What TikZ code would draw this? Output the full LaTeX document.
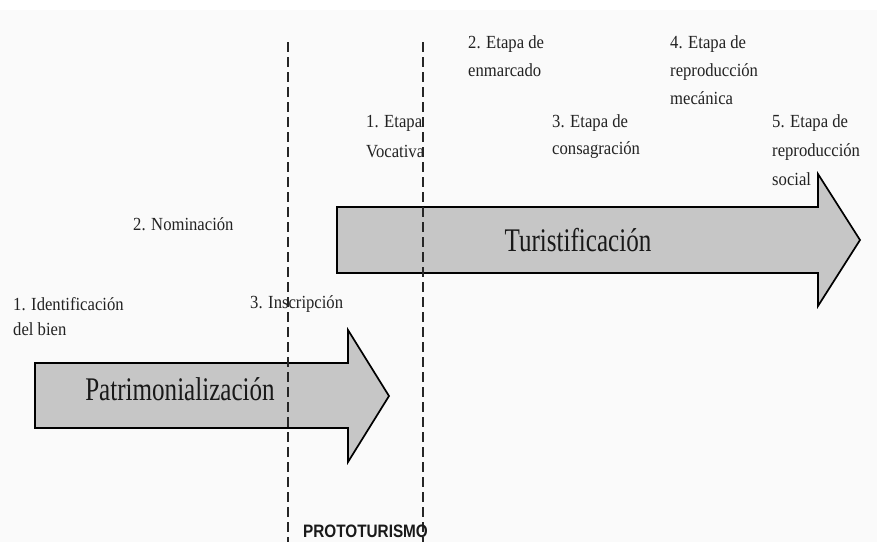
\documentclass[tikz,border=0pt]{standalone}
\usepackage{fontspec}
\setmainfont{Liberation Serif}[FakeStretch=0.9]
\newfontfamily\bigserif{Liberation Serif}[FakeStretch=0.76]
\newfontfamily\protofont{Liberation Sans}[FakeStretch=0.85]
\definecolor{bgcol}{HTML}{FAFAFA}
\definecolor{arrfill}{HTML}{C6C6C6}
\definecolor{txtcol}{HTML}{222222}
\begin{document}
\begin{tikzpicture}[x=1pt,y=-1pt,
  lbl/.style={anchor=north west,inner sep=0pt,align=left,text=txtcol,font=\fontsize{18.5}{28}\selectfont},
  bigarrow/.style={draw=black,line width=1.7pt,fill=arrfill,line join=miter},
  biglbl/.style={anchor=base,inner sep=0pt,text=black!90,font=\bigserif\fontsize{33}{36}\selectfont},
  divider/.style={draw=black!85,line width=2pt,dash pattern=on 10pt off 5pt}]
\useasboundingbox (0,0) rectangle (877,542);
\fill[white] (0,0) rectangle (877,10);
\fill[bgcol] (0,10) rectangle (877,542);

% Patrimonializacion arrow
\coordinate (p1) at (35,363);
\coordinate (p2) at (348,363);
\coordinate (p3) at (348,330);
\coordinate (p4) at (389,396);
\coordinate (p5) at (348,462);
\coordinate (p6) at (348,428);
\coordinate (p7) at (35,428);
\path[bigarrow] (p1) -- (p2) -- (p3) -- (p4) -- (p5) -- (p6) -- (p7) -- cycle;
\node[biglbl] (patr) at (180,400) {Patrimonialización};

% Turistificacion arrow
\coordinate (t1) at (337,207);
\coordinate (t2) at (818,207);
\coordinate (t3) at (818,174);
\coordinate (t4) at (860,240);
\coordinate (t5) at (818,306);
\coordinate (t6) at (818,273);
\coordinate (t7) at (337,273);
\path[bigarrow] (t1) -- (t2) -- (t3) -- (t4) -- (t5) -- (t6) -- (t7) -- cycle;
\node[biglbl] (turi) at (578,251) {Turistificación};

% dashed dividers
\coordinate (d1top) at (288,42);
\coordinate (d1bot) at (288,542);
\coordinate (d2top) at (423,42);
\coordinate (d2bot) at (423,542);
\draw[divider] (d1top) -- (d1bot);
\draw[divider] (d2top) -- (d2bot);

% labels
\node[lbl,font=\fontsize{18.5}{25}\selectfont] (idb) at (13,297) {1. Identificación\\del bien};
\node[lbl] (nom) at (133,217) {2. Nominación};
\node[lbl] (ins) at (250,295) {3. Inscripción};
\node[lbl,font=\fontsize{18.5}{30}\selectfont] (voc) at (366,115) {1. Etapa\\Vocativa};
\node[lbl] (enm) at (468,35) {2. Etapa de\\enmarcado};
\node[lbl,font=\fontsize{18.5}{27}\selectfont] (cons) at (552,114) {3. Etapa de\\consagración};
\node[lbl] (mec) at (670,35) {4. Etapa de\\reproducción\\mecánica};
\node[lbl,font=\fontsize{18.5}{29}\selectfont] (soc) at (772,114) {5. Etapa de\\reproducción\\social};

\node[anchor=base west,inner sep=0pt,text=black!90,font=\protofont\bfseries\fontsize{18}{20}\selectfont] (proto) at (303,537) {PROTOTURISMO};
\end{tikzpicture}
\end{document}
